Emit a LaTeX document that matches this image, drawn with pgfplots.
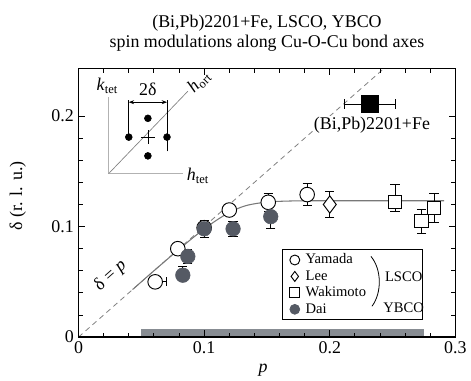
\documentclass[border=0pt]{standalone}
\usepackage{fontspec}
\setmainfont{Liberation Serif}
\usepackage{pgfplots}
\pgfplotsset{compat=1.18}
\usetikzlibrary{arrows.meta}
\definecolor{daifill}{RGB}{85,90,100}
\definecolor{bargray}{RGB}{135,140,146}
\definecolor{fitgray}{RGB}{120,120,120}
\begin{document}
\begin{tikzpicture}[font=\fontsize{13.5}{15}\selectfont]
\begin{axis}[
 scale only axis, width=284.25pt, height=202.5pt,
 xmin=0, xmax=0.3, ymin=0, ymax=0.243,
 xtick={0,0.1,0.2,0.3}, ytick={0,0.1,0.2},
 xticklabels={0,0.1,0.2,0.3}, yticklabels={0,0.1,0.2},
 /pgf/number format/assume math mode=true,
 minor x tick num=4, minor y tick num=4,
 tick align=inside, major tick length=5pt, minor tick length=3pt,
 axis line style={line width=0.9pt},
 every tick/.style={line width=0.7pt,black},
 axis on top,
 clip=false,
 xlabel={\textit{p}}, ylabel={δ (r. l. u.)},
 xlabel style={at={(axis description cs:0.49,-0.122)}, anchor=center},
 ylabel style={at={(axis description cs:-0.161,0.526)}, anchor=center},
 error bars/error bar style={line width=0.6pt, black},
 error bars/error mark options={rotate=90, mark size=3.5pt, line width=0.6pt, black},
 legend style={at={(axis cs:0.1616,0.0793)}, anchor=north west, draw=black, line width=0.5pt, fill=white,
   font=\fontsize{11}{11}\selectfont, row sep=0pt, inner sep=1.5pt,
   nodes={inner sep=0.8pt, text height=8.3pt, text depth=2.5pt}},
 legend cell align=left,
 legend image code/.code={\path[draw=none,fill=none] (0cm,-0.1cm) rectangle (0.55cm,0.1cm); \draw[#1, mark size=3.75pt] plot coordinates {(0.29cm,0cm)};},
]
% gray doping bar
\addplot[fill=bargray, draw=none, forget plot] coordinates {(0.0496,0) (0.275,0) (0.275,0.0072) (0.0496,0.0072)} -- cycle;
% delta = p line
\addplot[gray, dash pattern=on 4pt off 3pt, line width=0.6pt, forget plot] coordinates {(0,0) (0.243,0.243)};
% fit curve
\addplot[fitgray, line width=0.8pt, smooth, forget plot] coordinates {
 (0.043,0.043) (0.06,0.06) (0.08,0.0795) (0.095,0.0935) (0.105,0.102) (0.115,0.1095)
 (0.125,0.1155) (0.135,0.1195) (0.15,0.1222) (0.17,0.1232) (0.2,0.1234) (0.291,0.1234)};

% Yamada
\addplot[only marks, mark=*, mark size=5.5pt, mark options={fill=white, draw=black, line width=0.7pt},
  error bars/.cd, x dir=both, y dir=both, x explicit, y explicit] coordinates {
 (0.061,0.050) += (0.009,0) -= (0,0)
 (0.079,0.080) +- (0,0.004)
 (0.100,0.099) +- (0,0.004)
 (0.120,0.115) +- (0,0.005)
 (0.151,0.122) +- (0,0.008)
 (0.182,0.129) +- (0,0.010)
};
\addlegendentry{\makebox[86pt][l]{Yamada}}
% Lee
\addplot[only marks, mark=diamond*, mark size=6.5pt, mark options={fill=white, draw=black, line width=0.7pt},
  error bars/.cd, y dir=both, y explicit] coordinates {
 (0.200,0.120) +- (0,0.012)
};
\addlegendentry{Lee}
% Wakimoto
\addplot[only marks, mark=square*, mark size=5pt, mark options={fill=white, draw=black, line width=0.7pt},
  error bars/.cd, y dir=both, y explicit] coordinates {
 (0.252,0.122) += (0,0.016) -= (0,0.008)
 (0.273,0.105) +- (0,0.011)
 (0.283,0.117) +- (0,0.013)
};
\addlegendentry{Wakimoto}
% Dai
\addplot[only marks, mark=*, mark size=5.5pt, mark options={fill=daifill, draw=daifill},
  error bars/.cd, y dir=both, y explicit] coordinates {
 (0.083,0.056) += (0,0.008) -= (0,0)
 (0.087,0.073) +- (0,0.006)
 (0.100,0.098) +- (0,0.008)
 (0.123,0.098) +- (0,0.007)
 (0.153,0.109) +- (0,0.011)
};
\addlegendentry{Dai}
% (Bi,Pb)2201+Fe
\addplot[only marks, mark=square*, mark size=6.25pt, mark options={fill=black, draw=black}, forget plot,
  error bars/.cd, x dir=both, y dir=both, x explicit, y explicit] coordinates {
 (0.232,0.211) +- (0.020,0.008)
};
\node[fill=white, inner sep=1pt] at (axis cs:0.2336,0.192) {(Bi,Pb)2201+Fe};
\node[rotate=41.6] at (axis cs:0.0255,0.0555) {δ = \textit{p}};

% inset schematic
\addplot[gray!60, line width=0.7pt, forget plot] coordinates {(0.024,0.217) (0.024,0.148) (0.083,0.148)};
\addplot[gray, line width=0.5pt, forget plot] coordinates {(0.024,0.148) (0.087,0.2225)};
\addplot[only marks, mark=*, mark size=2.6pt, black, forget plot] coordinates {(0.0552,0.198) (0.040,0.181) (0.0704,0.181) (0.0552,0.164)};
\addplot[black, line width=0.5pt, forget plot] coordinates {(0.0496,0.181) (0.0608,0.181)};
\addplot[black, line width=0.5pt, forget plot] coordinates {(0.0552,0.175) (0.0552,0.187)};
\addplot[black, line width=0.5pt, forget plot] coordinates {(0.040,0.181) (0.040,0.215)};
\addplot[black, line width=0.5pt, forget plot] coordinates {(0.0704,0.168) (0.0704,0.215)};
\addplot[black, line width=0.5pt, {Stealth[length=4pt]}-{Stealth[length=4pt]}, forget plot] coordinates {(0.040,0.2126) (0.0704,0.2126)};
\node at (axis cs:0.0552,0.2245) {2δ};
\node at (axis cs:0.023,0.227) {\textit{k}\textsubscript{tet}};
\node at (axis cs:0.095,0.146) {\textit{h}\textsubscript{tet}};
\node[rotate=45, anchor=west, inner sep=1pt] at (axis cs:0.0885,0.2225) {\textit{h}\textsubscript{ort}};

\coordinate (brtop) at (axis cs:0.2328,0.0730);
\coordinate (brbot) at (axis cs:0.2336,0.0279);
\coordinate (brc1) at (axis cs:0.2415,0.061);
\coordinate (brc2) at (axis cs:0.2415,0.040);
\coordinate (lsco) at (axis cs:0.2588,0.055);
\coordinate (ybco) at (axis cs:0.2588,0.0261);
\end{axis}
\draw[line width=0.6pt] (brtop) .. controls (brc1) and (brc2) .. (brbot);
\node[font=\fontsize{11}{11}\selectfont] at (lsco) {LSCO};
\node[font=\fontsize{11}{11}\selectfont] at (ybco) {YBCO};
\node[anchor=base] at ([yshift=30.75pt]current axis.north) {(Bi,Pb)2201+Fe, LSCO, YBCO};
\node[anchor=base] at ([yshift=15.75pt]current axis.north) {spin modulations along Cu-O-Cu bond axes};
\path ([xshift=-59.25pt,yshift=-30.75pt]current axis.south west) rectangle ([xshift=9.75pt,yshift=51.75pt]current axis.north east);
\end{tikzpicture}
\end{document}
